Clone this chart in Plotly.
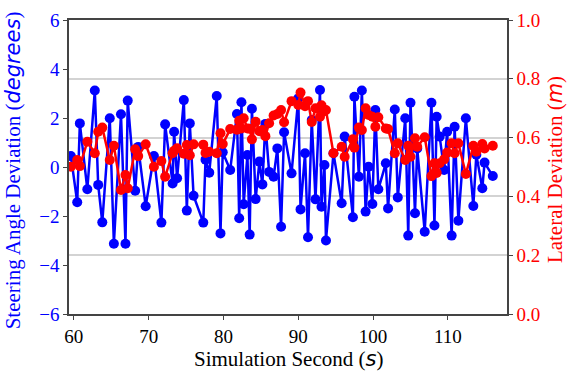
import plotly.graph_objects as go

# time stamps (s)
t = [59.6, 60.45, 60.8, 61.8, 62.8, 63.25, 63.8, 64.8, 65.35, 66.3, 66.9, 67.2, 68.2, 68.6, 69.6,
     70.7, 71.7, 72.2, 73.2, 73.4, 73.8, 74.7, 75.1, 75.5, 76.0, 77.3, 77.6, 78.1, 79.1, 79.6,
     79.9, 80.9, 81.8, 82.1, 82.4, 82.7, 83.2, 83.5, 83.8, 84.3, 84.8, 85.2, 85.6, 86.1, 86.7,
     87.2, 87.7, 88.1, 89.1, 90.0, 90.3, 90.9, 91.3, 91.8, 92.3, 92.9, 93.1, 93.5, 93.7, 94.7,
     95.8, 96.2, 97.3, 97.5, 98.1, 98.5, 99.0, 99.4, 99.9, 100.3, 100.7, 101.7, 102.0, 102.9, 103.3,
     104.3, 104.7, 105.0, 105.6, 105.9, 106.9, 107.8, 108.2, 108.5, 108.9, 109.5, 109.9, 110.5, 110.9, 111.4,
     112.4, 113.4, 113.8, 114.6, 114.9, 116.0]

# steering angle deviation (degrees)
steer = [0.45, -1.44, 1.78, -0.91, 3.12, -0.73, -2.26, 1.99, -3.13, 2.15, -3.13, 2.71, -0.97, 0.82, -1.6,
         0.45, -2.27, 1.74, -0.67, 1.44, -0.46, 2.73, -1.78, 1.78, -1.17, -2.27, 0.3, -0.23, 2.9, -2.71,
         0.6, -0.12, 2.16, -2.09, 2.64, -1.52, 0.49, -2.76, 2.38, -1.31, 0.22, -0.71, 1.76, -0.2, -0.4,
         0.76, -2.44, 1.42, -0.26, 2.8, -1.73, 0.56, -2.87, 1.92, -1.32, 3.14, -1.62, 0.08, -3.0, 0.56,
         -1.48, 1.24, -2.05, 2.87, -0.4, 3.12, -1.82, 0.01, -1.51, 2.33, -0.91, 0.15, -1.69, 2.35, -1.24,
         1.99, -2.8, 2.62, -1.89, 0.76, -2.64, 2.62, -2.39, 2.05, 1.24, -0.12, 1.44, -2.8, 1.64, -2.19,
         1.99, -1.59, 0.5, -0.87, 0.18, -0.37]

# lateral deviation (m)
lateral = [0.501, 0.524, 0.503, 0.586, 0.547, 0.62, 0.634, 0.524, 0.572, 0.422, 0.473, 0.428, 0.56, 0.537, 0.577,
           0.501, 0.52, 0.467, 0.547, 0.555, 0.564, 0.545, 0.575, 0.54, 0.577, 0.576, 0.548, 0.552, 0.547, 0.615,
           0.578, 0.629, 0.627, 0.657, 0.631, 0.666, 0.631, 0.63, 0.594, 0.654, 0.622, 0.626, 0.605, 0.649, 0.675,
           0.68, 0.694, 0.652, 0.724, 0.711, 0.753, 0.707, 0.724, 0.653, 0.7, 0.671, 0.71, 0.69, 0.694, 0.547,
           0.569, 0.535, 0.594, 0.566, 0.634, 0.626, 0.7, 0.677, 0.671, 0.637, 0.669, 0.631, 0.629, 0.547, 0.581,
           0.524, 0.572, 0.535, 0.598, 0.569, 0.601, 0.469, 0.513, 0.48, 0.513, 0.526, 0.549, 0.581, 0.547, 0.581,
           0.476, 0.572, 0.552, 0.578, 0.563, 0.572]

x_ticks = [60, 70, 80, 90, 100, 110]
left_ticks = [-6, -4, -2, 0, 2, 4, 6]
right_ticks = [0.0, 0.2, 0.4, 0.6, 0.8, 1.0]

x_title = "Simulation Second (<i><span style=\"font-family:DejaVu Sans\">s</span></i>)"
y_title = "Steering Angle Deviation (<i><span style=\"font-family:DejaVu Sans\">degrees</span></i>)"
y2_title = "Lateral Deviation (<i><span style=\"font-family:DejaVu Sans\">m</span></i>)"

SERIF = "Liberation Serif"
AXC = "#444444"
TICK = 19
TITLE = 21

fig = go.Figure()
fig.add_trace(go.Scatter(x=t, y=steer, mode="lines+markers", yaxis="y",
                         line=dict(color="#0000ff", width=2.5),
                         marker=dict(color="#0000ff", size=10), showlegend=False))
fig.add_trace(go.Scatter(x=t, y=lateral, mode="lines+markers", yaxis="y2",
                         line=dict(color="#ff0000", width=2.5),
                         marker=dict(color="#ff0000", size=10), showlegend=False))

axis_common = dict(zeroline=False, showline=True, linecolor=AXC, linewidth=1.5, automargin=False,
                   ticks="outside", ticklen=4, tickcolor=AXC, tickwidth=1.2)

fig.update_layout(
    width=567, height=371,
    margin=dict(l=69, r=60, t=20, b=57),
    paper_bgcolor="white", plot_bgcolor="white",
    font=dict(family=SERIF, size=TICK, color="black"),
    xaxis=dict(range=[59.35, 117.9], tickvals=x_ticks, showgrid=False, mirror=True,
               tickfont=dict(family=SERIF, size=TICK, color="black"), **axis_common),
    yaxis=dict(range=[-6, 6], tickvals=left_ticks, showgrid=False,
               tickfont=dict(family=SERIF, size=TICK, color="#0000ff"), **axis_common),
    yaxis2=dict(range=[0, 1.0], tickvals=right_ticks, tickformat=".1f", overlaying="y", side="right",
                showgrid=True, gridcolor="#d3d3d3", gridwidth=1.5,
                tickfont=dict(family=SERIF, size=TICK, color="#ff0000"), **axis_common),
    annotations=[
        dict(text=x_title, xref="paper", yref="paper", x=0.5, y=-0.153, xanchor="center", yanchor="middle",
             showarrow=False, font=dict(family=SERIF, size=TITLE, color="black")),
        dict(text=y_title, xref="paper", yref="paper", x=-0.127, y=0.49, xanchor="center", yanchor="middle",
             textangle=-90, showarrow=False, font=dict(family=SERIF, size=TITLE, color="#0000ff")),
        dict(text=y2_title, xref="paper", yref="paper", x=1.11, y=0.49, xanchor="center", yanchor="middle",
             textangle=-90, showarrow=False, font=dict(family=SERIF, size=TITLE, color="#ff0000")),
    ],
)

fig.write_html("out.html", config={"displayModeBar": False},
               post_script="document.body.style.margin='0';document.body.style.padding='0';")
